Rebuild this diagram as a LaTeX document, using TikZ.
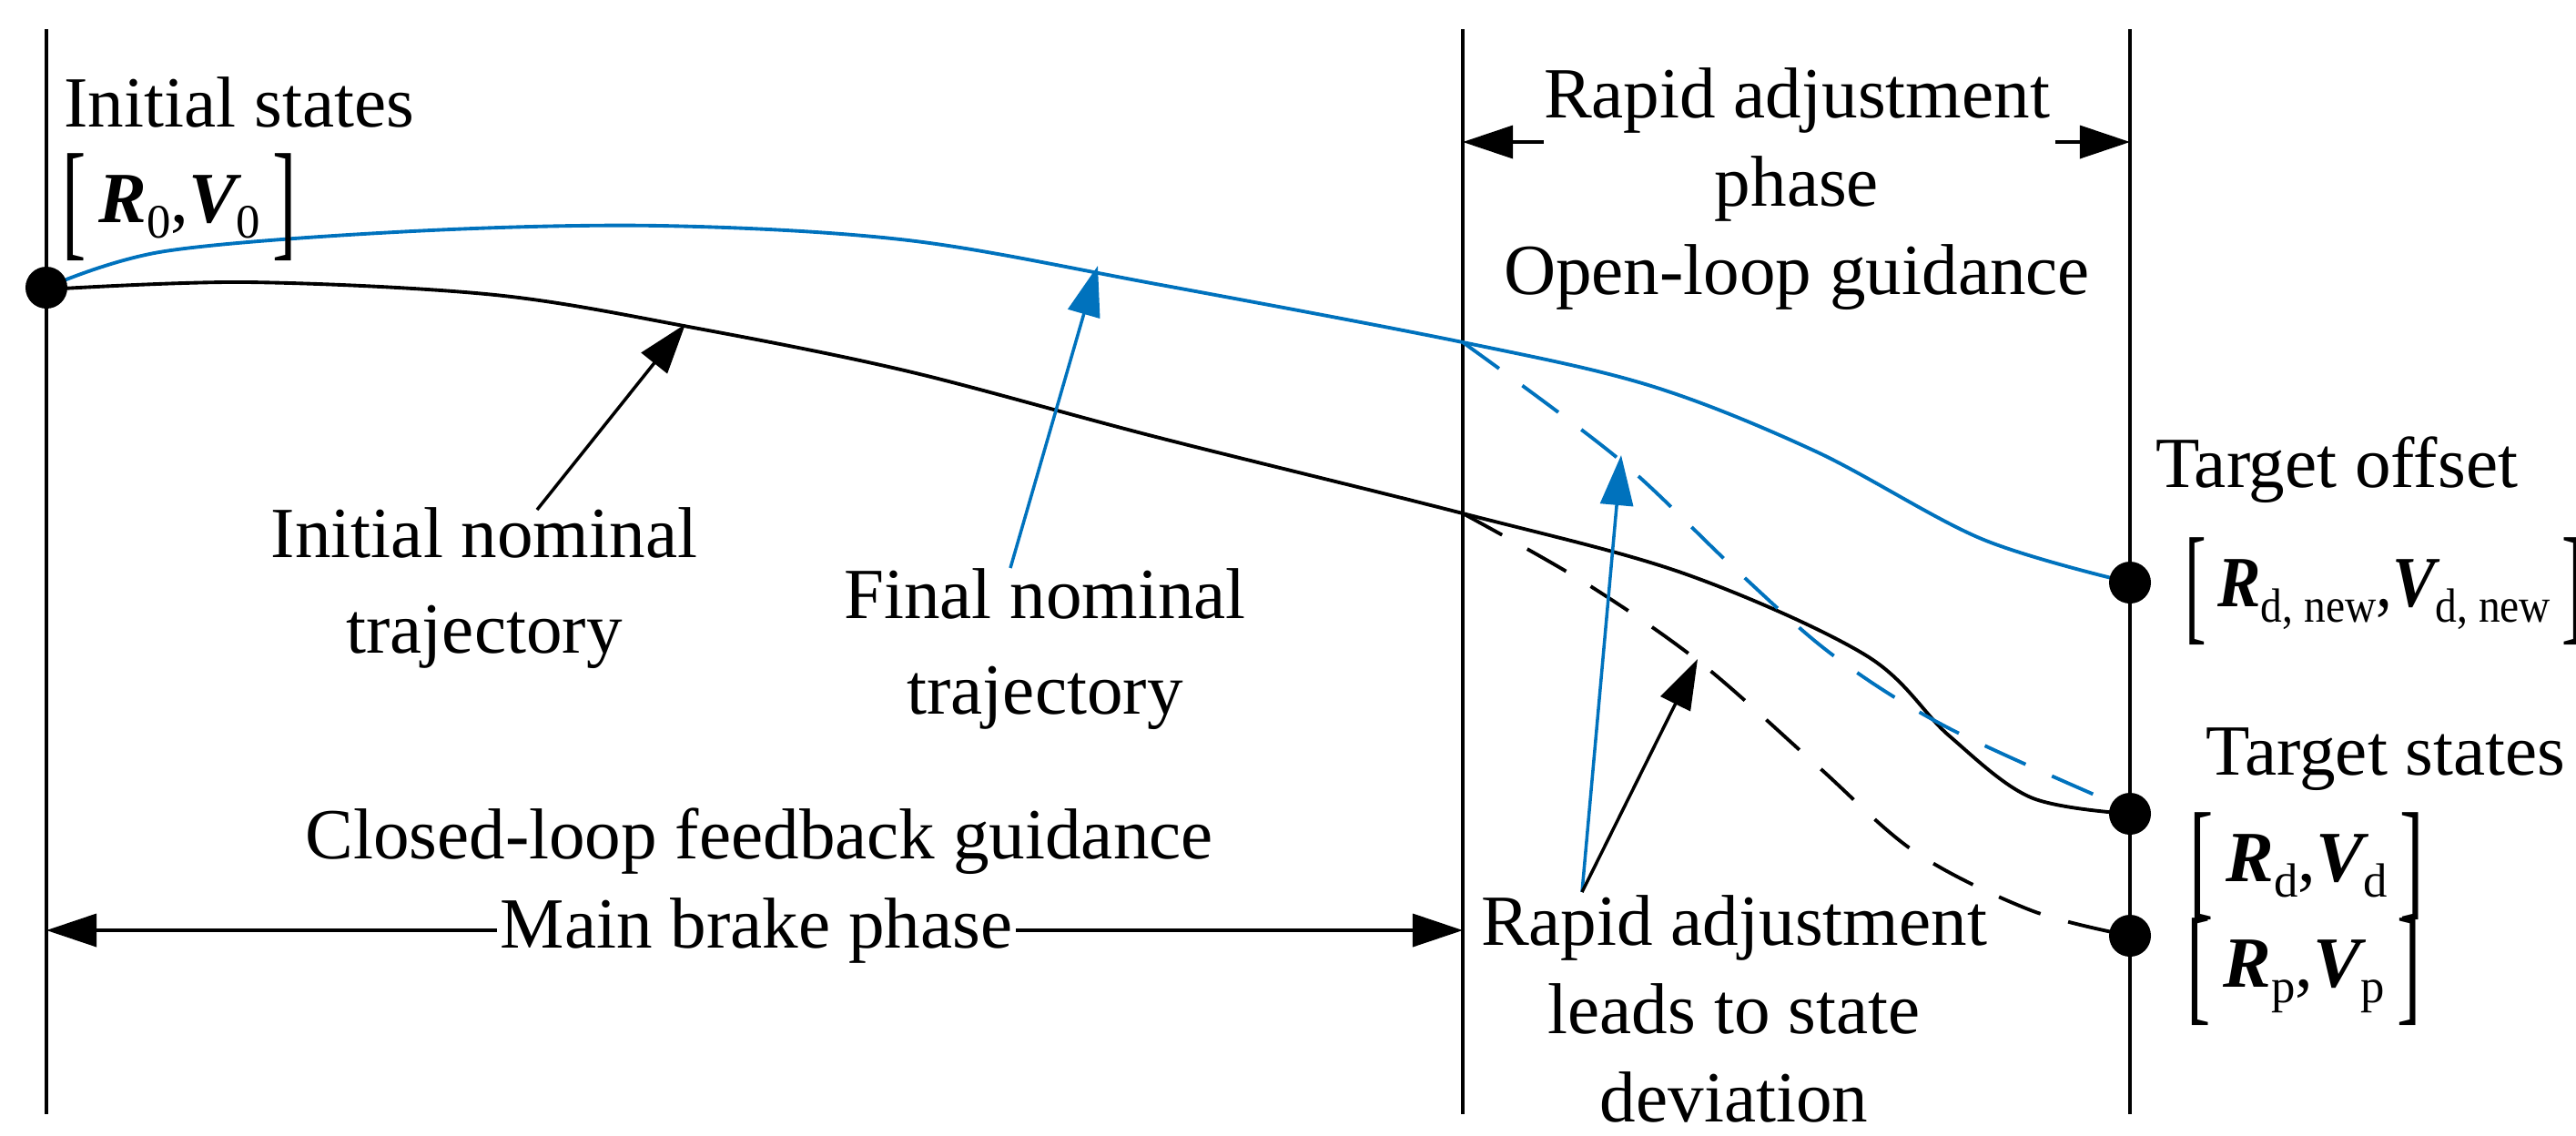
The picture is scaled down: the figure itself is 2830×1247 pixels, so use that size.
\documentclass[tikz,border=0pt]{standalone}
\usepackage{fontspec}
\setmainfont{Liberation Serif}
\usetikzlibrary{arrows.meta}
\definecolor{bl}{RGB}{0,114,189}
\newcommand{\bv}[1]{{\bfseries\itshape #1}}
\newcommand{\sbs}[1]{\raisebox{-0.22em}{\fontsize{15}{15}\selectfont #1}}
\newcommand{\tallbr}[1]{\raisebox{-0.3em}{\scalebox{1}[1.8]{#1}}}
\newcommand{\brk}[1]{\tallbr{[}\,#1\,\tallbr{]}}
\begin{document}
\begin{tikzpicture}[x=0.01cm,y=-0.01cm,
  every node/.style={font=\fontsize{22.5}{27}\selectfont},
  ln/.style={line width=1pt},
  curve/.style={line width=1.1pt},
  tip/.style={-{Triangle[length=0.55cm,width=0.36cm]}},
  dot/.style={circle,fill=black,inner sep=0pt,minimum size=0.46cm},
  lbl/.style={align=center}]
\useasboundingbox (0,0) rectangle (2830,1247);
% verticals
\coordinate (t1) at (51,32); \coordinate (b1) at (51,1224);
\coordinate (t2) at (1607,32); \coordinate (b2) at (1607,1224);
\coordinate (t3) at (2340,32); \coordinate (b3) at (2340,1224);
\draw[ln] (t1)--(b1); \draw[ln] (t2)--(b2); \draw[ln] (t3)--(b3);
% curves
\draw[curve,bl] plot[smooth,tension=0.55] coordinates {(51,316) (181,276) (453,254) (726,248) (998,264) (1270,312) (1607,376) (1814,424) (1995,496) (2177,592) (2340,640)};
\draw[curve] plot[smooth,tension=0.55] coordinates {(51,318) (272,310) (544,324) (762,360) (998,408) (1270,480) (1607,564) (1850,630) (2050,720) (2141,808) (2231,876) (2340,894)};
\draw[curve,bl,dash pattern=on 14pt off 9pt] plot[smooth,tension=0.55] coordinates {(1607,376) (1778,504) (1905,624) (2014,720) (2141,800) (2340,890)};
\draw[curve,dash pattern=on 14pt off 9pt] plot[smooth,tension=0.55] coordinates {(1607,564) (1741,640) (1868,728) (1995,840) (2104,936) (2231,1000) (2340,1028)};
% dots
\node[dot] (s0) at (51,316) {};
\node[dot] (so) at (2340,640) {};
\node[dot] (sd) at (2340,894) {};
\node[dot] (sp) at (2340,1028) {};
% texts
\node[anchor=west] (is) at (58,112) {Initial states};
\node[anchor=west,inner sep=0pt] (r0) at (68,228) {\brk{\bv{R}\sbs{0},\bv{V}\sbs{0}}};
\node[lbl] (rap) at (1974,208) {Rapid adjustment\\[0.02cm]phase\\[0.02cm]Open-loop guidance};
\node (to) at (2567,516) {Target offset};
\node[anchor=west,inner sep=0pt] (rn) at (2400,650) {\scalebox{0.9}[1]{\brk{\bv{R}\sbs{d, new},\bv{V}\sbs{d, new}}}};
\node (ts) at (2621,834) {Target states};
\node[anchor=west,inner sep=0pt] (rd) at (2405,952) {\brk{\bv{R}\sbs{d},\bv{V}\sbs{d}}};
\node[anchor=west,inner sep=0pt] (rp) at (2402,1068) {\brk{\bv{R}\sbs{p},\bv{V}\sbs{p}}};
\node[lbl] (inl) at (532,646) {Initial nominal\\[0.1cm]trajectory};
\node[lbl] (fnl) at (1148,713) {Final nominal\\[0.1cm]trajectory};
\node (clf) at (834,924) {Closed-loop feedback guidance};
\node[lbl] (rdl) at (1905,1108) {Rapid adjustment\\[0.02cm]leads to state\\[0.02cm]deviation};
% bottom phase arrow
\coordinate (m1) at (51,1022); \coordinate (m2) at (1607,1022);
\draw[ln,tip] (831,1022)--(m1);
\draw[ln,tip] (831,1022)--(m2);
\node[fill=white,inner sep=1pt] (mb) at (831,1022) {Main brake phase};
% top phase arrows
\draw[ln,tip] (1696,156)--(t2|-0,156);
\draw[ln,tip] (2258,156)--(t3|-0,156);
% pointer arrows
\coordinate (a1) at (590,560); \coordinate (e1) at (753,356);
\draw[ln,tip] (a1)--(e1);
\coordinate (a2) at (1110,624); \coordinate (e2) at (1206,292);
\draw[ln,bl,tip] (a2)--(e2);
\coordinate (a3) at (1738,980); \coordinate (e3) at (1781,500); \coordinate (e4) at (1865,724);
\draw[ln,bl,tip] (a3)--(e3);
\draw[ln,tip] (a3)--(e4);
\end{tikzpicture}
\end{document}
